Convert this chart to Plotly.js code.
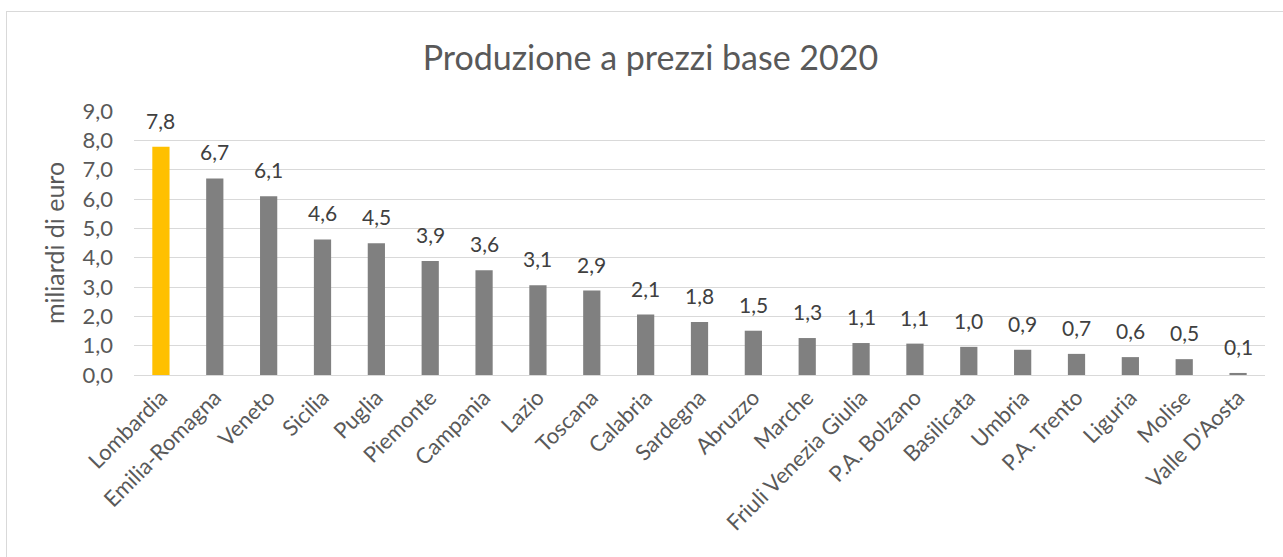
<!DOCTYPE html>
<html>
<head>
<meta charset="utf-8">
<script src="https://cdn.plot.ly/plotly-3.0.1.min.js"></script>
<style>
  html, body { margin: 0; padding: 0; background: #fff; overflow: hidden; }
  #frame { position: absolute; left: 6px; top: 11px; width: 1320px; height: 580px; border: 1px solid #d9d9d9; box-sizing: border-box; }
  #chart { position: absolute; left: 0; top: 0; width: 1283px; height: 557px; }
</style>
</head>
<body>
<div id="frame"></div>
<div id="chart"></div>
<script>
const regions = ["Lombardia","Emilia-Romagna","Veneto","Sicilia","Puglia","Piemonte","Campania","Lazio","Toscana","Calabria","Sardegna","Abruzzo","Marche","Friuli Venezia Giulia","P.A. Bolzano","Basilicata","Umbria","P.A. Trento","Liguria","Molise","Valle D'Aosta"];
const values = [7.78, 6.70, 6.09, 4.62, 4.49, 3.89, 3.57, 3.06, 2.88, 2.06, 1.81, 1.51, 1.26, 1.09, 1.07, 0.96, 0.86, 0.72, 0.61, 0.54, 0.07];
const highlight = "Lombardia";
const yTicks = [0,1,2,3,4,5,6,7,8,9];

const FONT = "Lato, 'Open Sans', sans-serif";
const colors = regions.map(r => r === highlight ? "#FFC000" : "#808080");

const trace = {
  type: "bar",
  x: regions,
  y: values,
  marker: { color: colors },
  hoverinfo: "x+y"
};

const annotations = regions.map((r, i) => ({
  x: r, y: values[i], xref: "x", yref: "y",
  text: (Math.round(values[i] * 10) / 10).toFixed(1).replace(".", ","),
  showarrow: false, yanchor: "bottom", yshift: 12,
  font: { family: FONT, size: 21, color: "#404040" }
}));

const layout = {
  width: 1283, height: 557,
  paper_bgcolor: "rgba(0,0,0,0)",
  plot_bgcolor: "rgba(0,0,0,0)",
  separators: ", ",
  margin: { l: 134, r: 18, t: 111, b: 182, autoexpand: false },
  bargap: 0.68,
  showlegend: false,
  title: {
    text: "Produzione a prezzi base 2020",
    font: { family: FONT, size: 34, color: "#595959" },
    x: 0.507, xanchor: "center", y: 0.895, yanchor: "middle"
  },
  xaxis: {
    type: "category",
    tickangle: -45,
    tickfont: { family: FONT, size: 22, color: "#595959" },
    showline: true, linecolor: "#d9d9d9", linewidth: 1,
    ticks: "", automargin: false
  },
  yaxis: {
    range: [0, 9],
    tickvals: yTicks,
    tickformat: ".1f",
    tickfont: { family: FONT, size: 22, color: "#595959" },
    gridcolor: "#d9d9d9", gridwidth: 1,
    zeroline: false,
    showline: false,
    ticks: "",
    ticklabelstandoff: 20,
    automargin: false,
    title: { text: "miliardi di euro", font: { family: FONT, size: 25, color: "#595959" }, standoff: 10 }
  },
  annotations: annotations
};

Plotly.newPlot("chart", [trace], layout, { displayModeBar: false, staticPlot: true });
</script>
</body>
</html>
